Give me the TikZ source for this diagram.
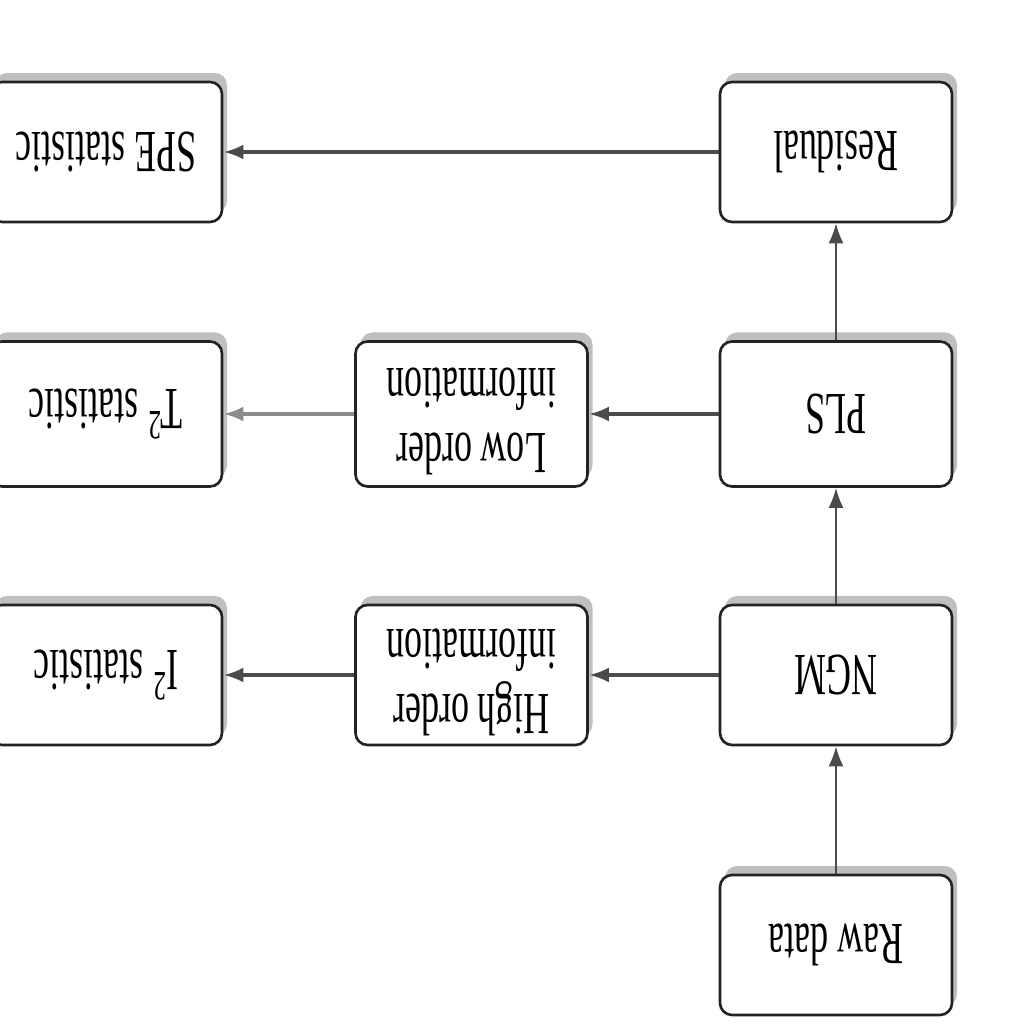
\documentclass[tikz,border=0pt]{standalone}
\usepackage{fontspec}
\setmainfont{Liberation Serif}
\usepackage{graphicx}
\usetikzlibrary{arrows.meta, shadows}
\definecolor{BoxLine}{RGB}{35, 35, 35}
\definecolor{FlowLine}{RGB}{75, 75, 75}
\definecolor{FlowSoft}{RGB}{140, 140, 140}
\newcommand{\flip}[1]{\rotatebox{180}{\scalebox{0.6}[1]{#1}}}
\newcommand{\flipp}[2]{\rotatebox{180}{\scalebox{0.6}[1]{\begin{tabular}{@{}c@{}}#1\\#2\end{tabular}}}}

\begin{document}
\begin{tikzpicture}[
    stage/.style={draw=BoxLine, line width=0.75pt, fill=white, rounded corners=0.12cm,
        minimum width=2.32cm, minimum height=1.40cm, inner sep=0pt,
        font=\fontsize{17}{18.5}\selectfont,
        drop shadow={shadow xshift=0.05cm, shadow yshift=0.09cm, fill=black!50}},
    flow/.style={-{Latex[length=0.2cm, width=0.15cm]}, line width=1.1pt, FlowLine}]
        \useasboundingbox (0,0) rectangle (10.24,10.24);
        % right column
        \node[stage] (raw)  at (8.36,0.79)  {\flip{Raw data}};
        \node[stage] (ngm)  at (8.36,3.49)  {\flip{NGM}};
        \node[stage, minimum height=1.45cm] (pls) at (8.36,6.10) {\flip{PLS}};
        \node[stage] (res)  at (8.36,8.72)  {\flip{Residual}};
        % middle column
        \node[stage] (high) at (4.715,3.49) {\flipp{High order}{information}};
        \node[stage, minimum height=1.45cm] (low) at (4.715,6.10) {\flipp{Low order}{information}};
        % left column
        \node[stage] (itwo) at (1.06,3.49)  {\flip{I\textsuperscript{2} statistic}};
        \node[stage, minimum height=1.45cm] (ttwo) at (1.06,6.10) {\flip{T\textsuperscript{2} statistic}};
        \node[stage] (spe)  at (1.06,8.72)  {\flip{SPE statistic}};
        % connectors
        \draw[flow, line width=0.6pt] (raw) -- (ngm);
        \draw[flow, line width=0.6pt] (ngm) -- (pls);
        \draw[flow, line width=0.6pt] (pls) -- (res);
        \draw[flow] (res) -- (spe);
        \draw[flow] (pls) -- (low);
        \draw[flow, FlowSoft] (low) -- (ttwo);
        \draw[flow] (ngm) -- (high);
        \draw[flow] (high) -- (itwo);
      \end{tikzpicture}
\end{document}
